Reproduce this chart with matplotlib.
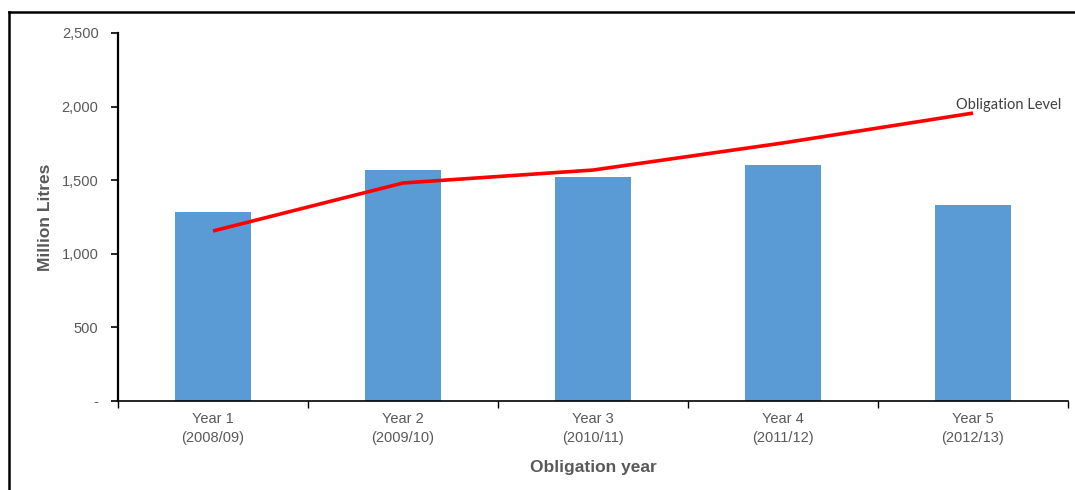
import matplotlib
matplotlib.use("Agg")
import matplotlib.pyplot as plt
from matplotlib.lines import Line2D
from matplotlib.ticker import FuncFormatter

# Data
years = ["Year 1\n(2008/09)", "Year 2\n(2009/10)", "Year 3\n(2010/11)",
         "Year 4\n(2011/12)", "Year 5\n(2012/13)"]
supplied = [1284, 1569, 1520, 1601, 1334]
obligation = [1155, 1481, 1569, 1753, 1956]
y_ticks = [0, 500, 1000, 1500, 2000, 2500]

plt.rcParams['font.family'] = ['Liberation Sans', 'DejaVu Sans']

fig = plt.figure(figsize=(10.75, 4.9), dpi=100)
ax = fig.add_axes([118 / 1075, 1 - 401 / 490, 950 / 1075, 368 / 490])

x = list(range(len(years)))
ax.bar(x, supplied, width=0.4, color="#5b9bd5", zorder=2)
ax.plot(x, obligation, color="#ff0000", linewidth=2.6, zorder=3,
        solid_capstyle="butt")
ax.text(x[-1] - 0.09, obligation[-1] + 8, "Obligation Level",
        fontsize=10.5, color="#404040", family=["Lato", "DejaVu Sans"],
        ha="left", va="bottom")

ax.set_xlim(-0.5, len(years) - 0.5)
ax.set_ylim(0, 2500)
ax.set_yticks(y_ticks)
ax.yaxis.set_major_formatter(
    FuncFormatter(lambda v, p: "-" if v == 0 else f"{int(v):,}"))

# category labels centred, ticks on the category boundaries
ax.set_xticks(x)
ax.set_xticklabels(years, fontsize=10.5, color="#595959", linespacing=1.45)
ax.tick_params(axis="x", which="major", length=0, pad=8)
ax.set_xticks([i - 0.5 for i in range(len(years) + 1)], minor=True)
ax.tick_params(axis="x", which="minor", length=5, width=1, direction="out")
ax.tick_params(axis="y", length=5, width=1.2, direction="out",
               labelsize=10.5, labelcolor="#595959", pad=9)

for s in ("top", "right"):
    ax.spines[s].set_visible(False)
ax.spines["left"].set_linewidth(1.6)
ax.spines["bottom"].set_linewidth(1.2)

ax.set_ylabel("Million Litres", fontsize=12.5, fontweight="bold",
              color="#595959", labelpad=6)
ax.set_xlabel("Obligation year", fontsize=12.5, fontweight="bold",
              color="#595959", labelpad=11)

# outer frame
fig.add_artist(Line2D([9 / 1075, 9 / 1075], [0, 1 - 12 / 490],
                      transform=fig.transFigure, color="black", linewidth=1.8))
fig.add_artist(Line2D([9 / 1075, 1], [1 - 12 / 490, 1 - 12 / 490],
                      transform=fig.transFigure, color="black", linewidth=1.8))

fig.savefig("out.png", dpi=100)
